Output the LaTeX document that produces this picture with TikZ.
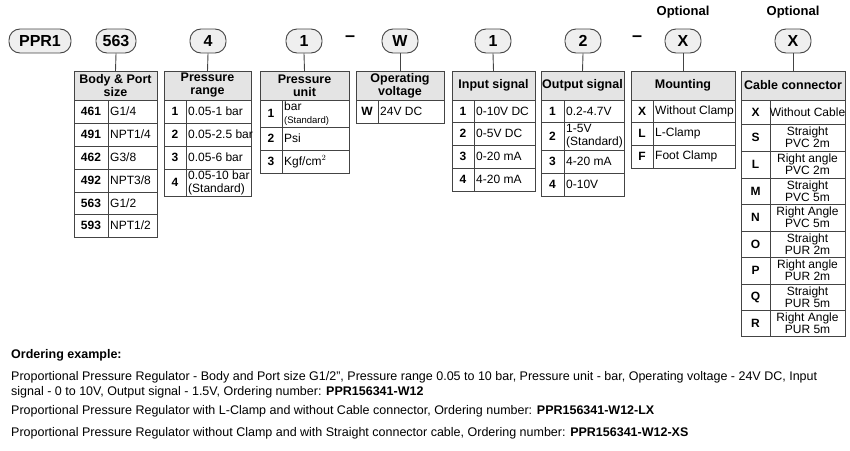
\documentclass[tikz,border=0pt]{standalone}
\usepackage{fontspec}
\setmainfont{Liberation Sans}
\definecolor{hdrgray}{HTML}{E4E4E4}
\definecolor{linegray}{HTML}{444444}
\tikzset{
    pill/.style = {draw=linegray, line width=0.9pt, rounded corners=11pt, fill=hdrgray!60,
        minimum height=24pt, inner sep=2pt, font=\fontsize{16}{18}\selectfont\bfseries},
    cell/.style = {draw=linegray, line width=0.9pt},
    hdr/.style = {draw=linegray, line width=0.9pt, fill=hdrgray},
    hdrtxt/.style = {align=center, font=\fontsize{12.5}{13}\selectfont\bfseries},
    keytxt/.style = {font=\fontsize{12}{14}\selectfont\bfseries},
    valtxt/.style = {anchor=west, inner sep=2pt, align=left, font=\fontsize{12}{13}\selectfont},
    valctr/.style = {align=center, inner sep=0pt, font=\fontsize{12}{12}\selectfont},
    link/.style = {draw=linegray, line width=0.9pt},
    dashtxt/.style = {font=\fontsize{18}{18}\selectfont\bfseries},
    plain/.style = {anchor=north west, align=left, inner sep=0pt, font=\fontsize{12.5}{15}\selectfont},
}
% header box: name, left, right, text
\newcommand{\codehead}[4]{
    \draw[hdr] (#2,71) rectangle (#3,100);
    \node[hdrtxt] (#1) at ({(#2+#3)/2},85.5) {#4};
    \coordinate (#1top) at ({(#2+#3)/2},71);
}
% row: name, left, split, right, top, bottom, key, value
\newcommand{\coderow}[8]{
    \draw[cell] (#2,#5) rectangle (#3,#6);
    \draw[cell] (#3,#5) rectangle (#4,#6);
    \node[keytxt] (#1k) at ({(#2+#3)/2},{(#5+#6)/2}) {#7};
    \node[valtxt] (#1v) at (#3,{(#5+#6)/2}) {#8};
}
\newcommand{\coderowc}[8]{
    \draw[cell] (#2,#5) rectangle (#3,#6);
    \draw[cell] (#3,#5) rectangle (#4,#6);
    \node[keytxt] (#1k) at ({(#2+#3)/2},{(#5+#6)/2}) {#7};
    \node[valctr] (#1v) at ({(#3+#4)/2},{(#5+#6)/2}) {#8};
}

\begin{document}
\begin{tikzpicture}[x=1pt,y=-1pt]
    \useasboundingbox (0,0) rectangle (850,450);

    % code pills
    \node[pill, minimum width=62pt] (ppr) at (40,41) {PPR1};
    \node[pill, minimum width=40pt] (body) at (116,41) {563};
    \node[pill, minimum width=36pt] (range) at (208,41) {4};
    \node[pill, minimum width=36pt] (unit) at (304,41) {1};
    \node[dashtxt] (dashA) at (350,39) {--};
    \node[pill, minimum width=36pt] (volt) at (400,41) {W};
    \node[pill, minimum width=36pt] (input) at (493,41) {1};
    \node[pill, minimum width=36pt] (output) at (583,41) {2};
    \node[dashtxt] (dashB) at (637,39) {--};
    \node[pill, minimum width=36pt] (mount) at (683,41) {X};
    \node[pill, minimum width=36pt] (cable) at (793,41) {X};
    \node[hdrtxt, font=\fontsize{13}{14}\selectfont\bfseries] (optA) at (683,12) {Optional};
    \node[hdrtxt, font=\fontsize{13}{14}\selectfont\bfseries] (optB) at (793,12) {Optional};

    % body & port size
    \codehead{bph}{74}{157}{Body \& Port\\size}
    \coderow{bp1}{74}{108}{157}{100}{123}{461}{G1/4}
    \coderow{bp2}{74}{108}{157}{123}{146}{491}{NPT1/4}
    \coderow{bp3}{74}{108}{157}{146}{169}{462}{G3/8}
    \coderow{bp4}{74}{108}{157}{169}{192}{492}{NPT3/8}
    \coderow{bp5}{74}{108}{157}{192}{214}{563}{G1/2}
    \coderow{bp6}{74}{108}{157}{214}{237}{593}{NPT1/2}

    % pressure range
    \codehead{prh}{164}{251}{Pressure\\range}
    \coderow{pr1}{164}{186}{251}{100}{123}{1}{0.05-1 bar}
    \coderow{pr2}{164}{186}{251}{123}{146}{2}{0.05-2.5 bar}
    \coderow{pr3}{164}{186}{251}{146}{169}{3}{0.05-6 bar}
    \coderow{pr4}{164}{186}{251}{169}{196}{4}{0.05-10 bar\\(Standard)}

    % pressure unit
    \codehead{puh}{260}{349}{Pressure\\unit}
    \coderow{pu1}{260}{282}{349}{100}{127}{1}{bar\\{\fontsize{9.5}{10}\selectfont(Standard)}}
    \coderow{pu2}{260}{282}{349}{127}{150}{2}{Psi}
    \coderow{pu3}{260}{282}{349}{150}{173}{3}{Kgf/cm$^2$}

    % operating voltage
    \codehead{ovh}{356}{444}{Operating\\voltage}
    \coderow{ov1}{356}{378}{444}{100}{123}{W}{24V DC}

    % input signal
    \codehead{ish}{452}{535}{Input signal}
    \coderow{is1}{452}{474}{535}{100}{122}{1}{0-10V DC}
    \coderow{is2}{452}{474}{535}{122}{145}{2}{0-5V DC}
    \coderow{is3}{452}{474}{535}{145}{168}{3}{0-20 mA}
    \coderow{is4}{452}{474}{535}{168}{191}{4}{4-20 mA}

    % output signal
    \codehead{osh}{541}{624}{Output signal}
    \coderow{os1}{541}{564}{624}{100}{122}{1}{0.2-4.7V}
    \coderow{os2}{541}{564}{624}{122}{150}{2}{1-5V\\(Standard)}
    \coderow{os3}{541}{564}{624}{150}{173}{3}{4-20 mA}
    \coderow{os4}{541}{564}{624}{173}{196}{4}{0-10V}

    % mounting
    \codehead{mth}{631}{735}{Mounting}
    \coderow{mt1}{631}{653}{735}{100}{122}{X}{Without Clamp}
    \coderow{mt2}{631}{653}{735}{122}{145}{L}{L-Clamp}
    \coderow{mt3}{631}{653}{735}{145}{168}{F}{Foot Clamp}

    % cable connector
    \codehead{cch}{741}{845}{Cable connector}
    \coderowc{cc1}{741}{770}{845}{100}{124}{X}{Without Cable}
    \coderowc{cc2}{741}{770}{845}{124}{151}{S}{Straight\\PVC 2m}
    \coderowc{cc3}{741}{770}{845}{151}{178}{L}{Right angle\\PVC 2m}
    \coderowc{cc4}{741}{770}{845}{178}{204}{M}{Straight\\PVC 5m}
    \coderowc{cc5}{741}{770}{845}{204}{231}{N}{Right Angle\\PVC 5m}
    \coderowc{cc6}{741}{770}{845}{231}{257}{O}{Straight\\PUR 2m}
    \coderowc{cc7}{741}{770}{845}{257}{284}{P}{Right angle\\PUR 2m}
    \coderowc{cc8}{741}{770}{845}{284}{310}{Q}{Straight\\PUR 5m}
    \coderowc{cc9}{741}{770}{845}{310}{336}{R}{Right Angle\\PUR 5m}

    % links
    \draw[link] (body.south) -- (bphtop);
    \draw[link] (range.south) -- (prhtop);
    \draw[link] (unit.south) -- (puhtop);
    \draw[link] (volt.south) -- (ovhtop);
    \draw[link] (input.south) -- (ishtop);
    \draw[link] (output.south) -- (oshtop);
    \draw[link] (mount.south) -- (mthtop);
    \draw[link] (cable.south) -- (cchtop);

    % ordering example
    \node[plain, font=\fontsize{12.5}{15}\selectfont\bfseries] (ordhead) at (11,349) {Ordering example:};
    \node[plain] (ord1) at (11,371) {Proportional Pressure Regulator - Body and Port size G1/2", Pressure range 0.05 to 10 bar, Pressure unit - bar, Operating voltage - 24V DC, Input\\signal - 0 to 10V, Output signal - 1.5V, Ordering number: \textbf{PPR156341-W12}};
    \node[plain] (ord2) at (11,405) {Proportional Pressure Regulator with L-Clamp and without Cable connector, Ordering number: \textbf{PPR156341-W12-LX}};
    \node[plain] (ord3) at (11,427) {Proportional Pressure Regulator without Clamp and with Straight connector cable, Ordering number: \textbf{PPR156341-W12-XS}};
\end{tikzpicture}
\end{document}
